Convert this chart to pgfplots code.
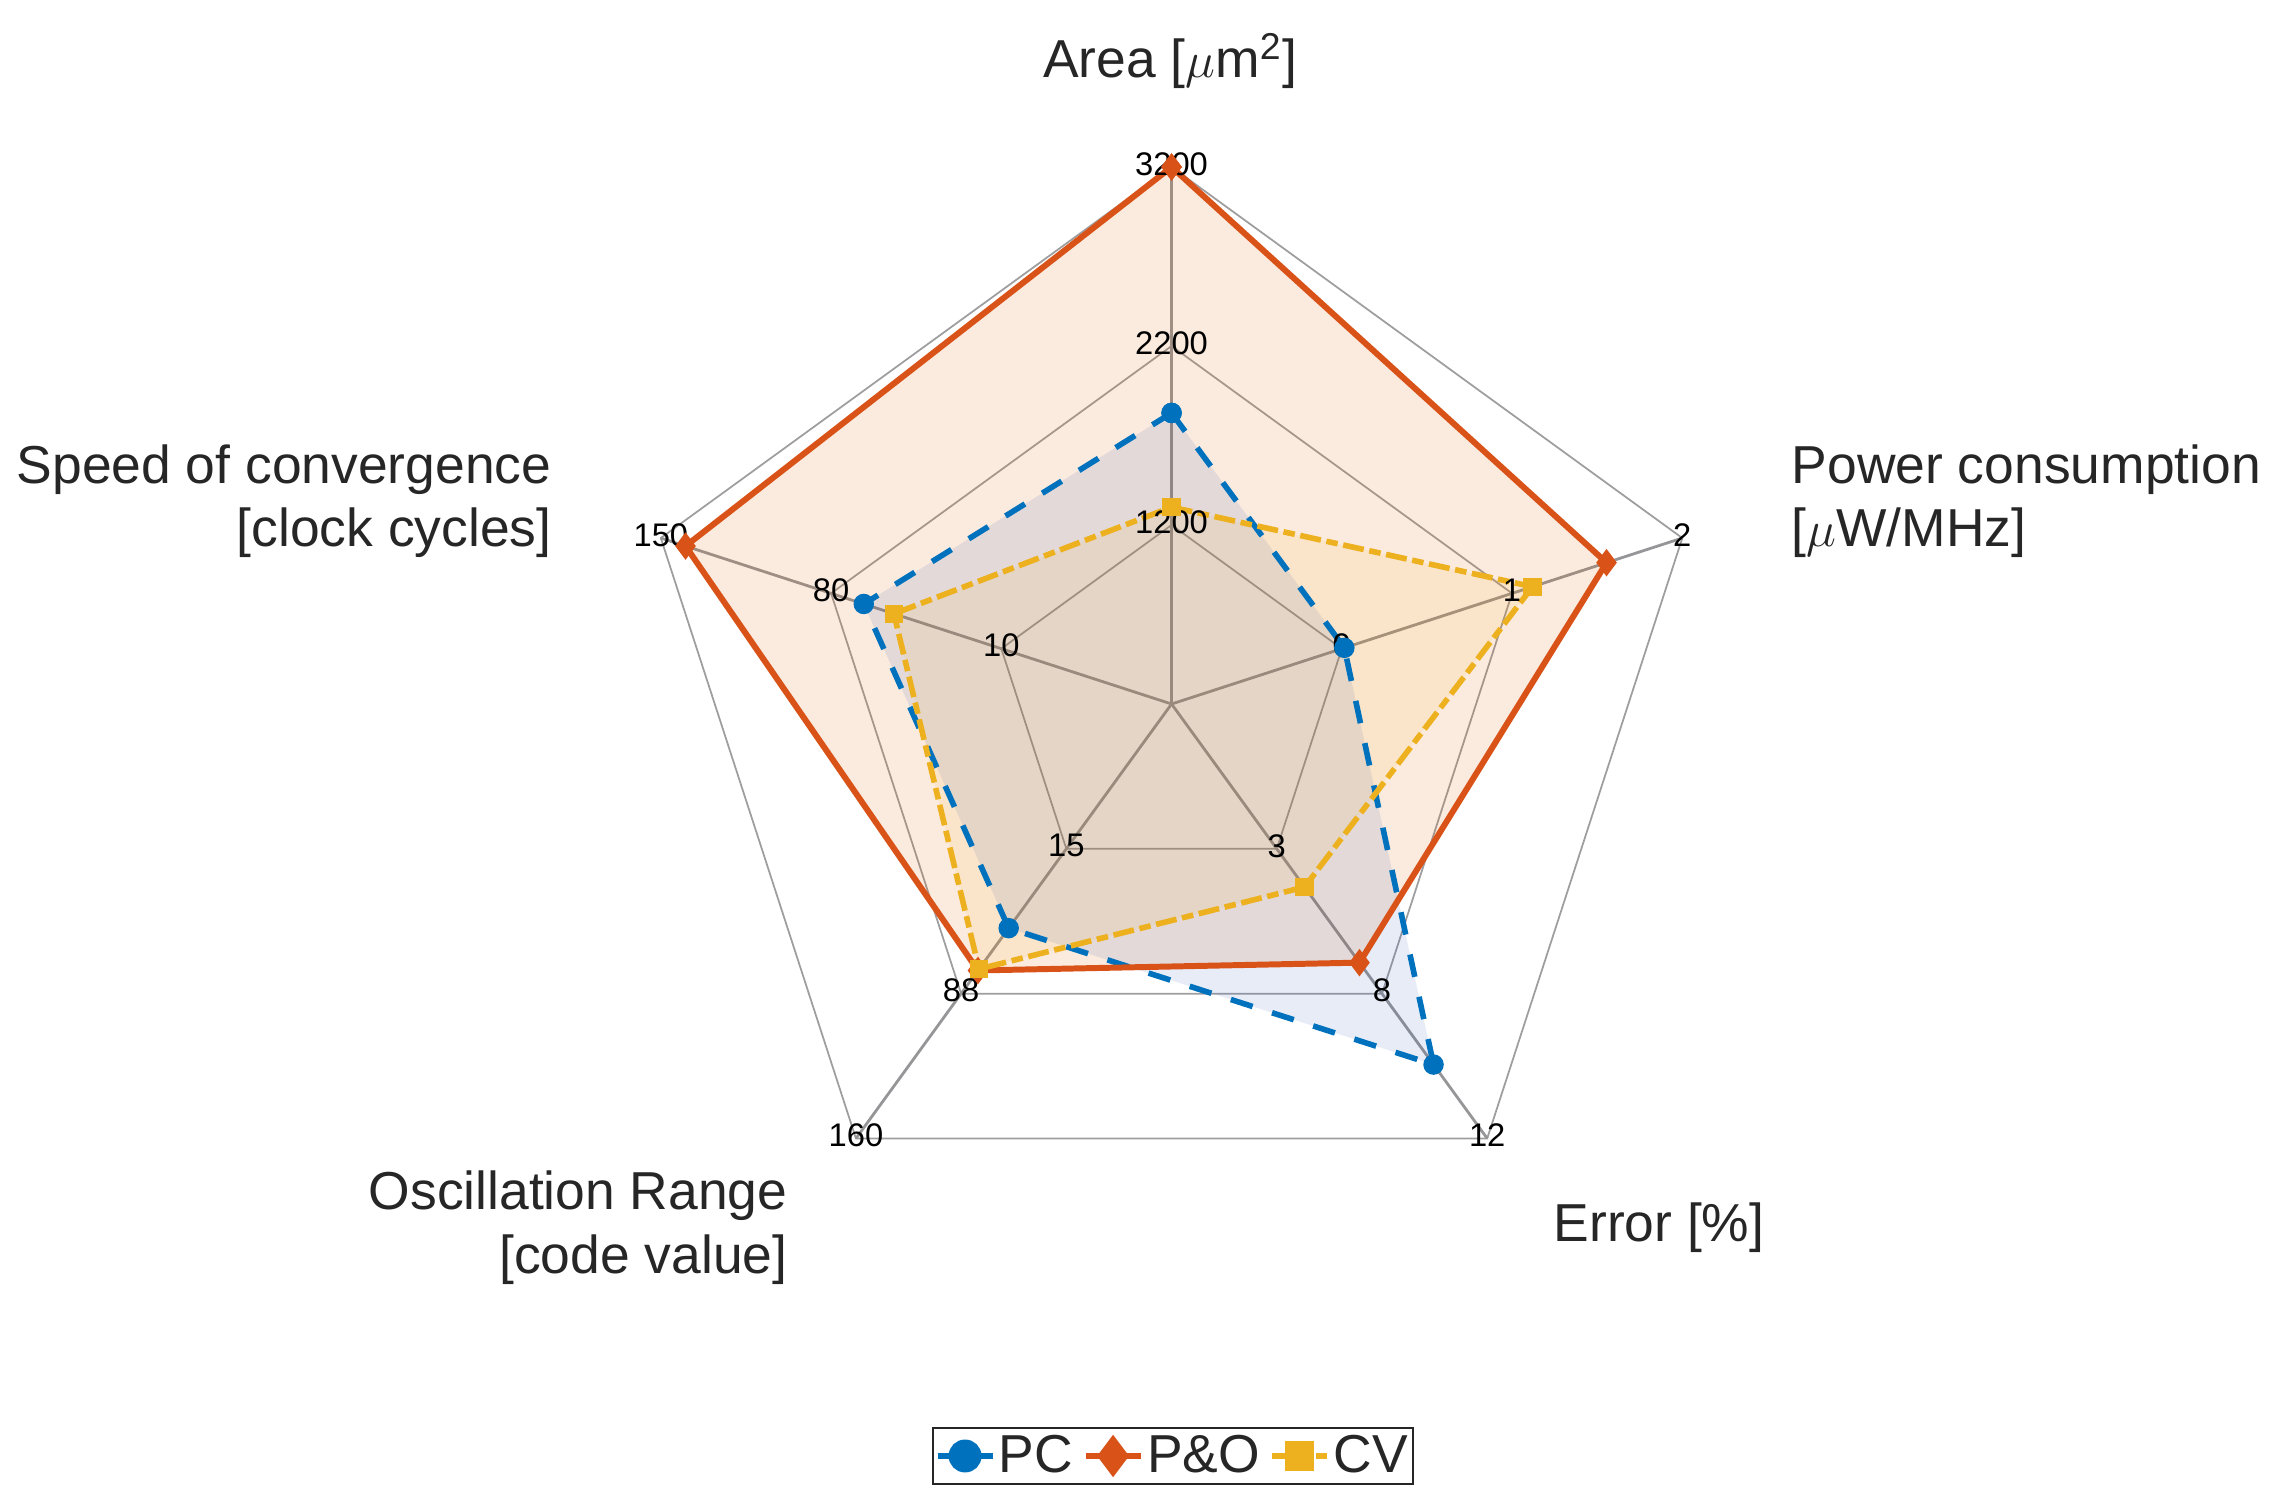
\documentclass[border=0pt]{standalone}
\usepackage{fontspec}
\setmainfont{Liberation Sans}
\usepackage{pgfplots}
\pgfplotsset{compat=1.18}
\usepackage{pgfplotstable}

\definecolor{pcblue}{RGB}{0,114,189}
\definecolor{pored}{RGB}{217,83,25}
\definecolor{cvyel}{RGB}{237,177,32}
\definecolor{pcfill}{RGB}{20,70,180}
\definecolor{pofill}{RGB}{225,95,0}
\definecolor{ringgray}{RGB}{158,158,160}
\definecolor{spokegray}{RGB}{150,150,152}
\definecolor{txt}{RGB}{38,38,38}

\newcommand\labsz{\fontsize{15.2}{18}\selectfont}
\newcommand\ticksz{\fontsize{9.3}{11}\selectfont}
% tick label on a spoke: angle, ring, text
\newcommand\tl[3]{\node[font=\ticksz,inner sep=0pt,yshift=0.3mm] at ([shift={(#1:#2*17.9mm)}]axis cs:0,0) {#3};}

% spokes: Area 90, Power 18, Error -54, Oscillation -126, Speed 162
% r = position in ring units (rings 1,2,3 carry the labelled values)
\pgfplotstableread{
ang r
90 1.626
18 1.015
-54 2.490
-126 1.548
162 1.808
90 1.626
}\pc
\pgfplotstableread{
ang r
90 3.0
18 2.555
-54 1.786
-126 1.84
162 2.855
90 3.0
}\po
\pgfplotstableread{
ang r
90 1.10
18 2.12
-54 1.264
-126 1.83
162 1.631
90 1.10
}\cv

\begin{document}
\begin{tikzpicture}
\begin{axis}[
    x=17.9mm, y=17.9mm,
    xmin=-6.545, xmax=6.170, ymin=-4.425, ymax=3.933,
    scale only axis, hide axis, clip=false,
    legend columns=3,
    legend style={at={(axis cs:0.008,-4.201)}, anchor=center,
        draw=txt, line width=0.5pt, fill=white,
        font=\labsz\color{txt},
        inner xsep=0.2mm, inner ysep=0.2mm,
        nodes={inner xsep=0.35mm, inner ysep=0.5mm},
        /tikz/every even column/.append style={column sep=0.6mm}},
    legend image code/.code={
        \draw[mark repeat=2,mark phase=2] plot coordinates {(0mm,0mm) (2.75mm,0mm) (5.5mm,0mm)};},
    legend image post style={every mark/.append style={scale=1.85}},
]
% rings
\addplot[ringgray, line width=0.5pt, data cs=polar, forget plot] coordinates {(90,1) (18,1) (-54,1) (-126,1) (162,1) (90,1)};
\addplot[ringgray, line width=0.5pt, data cs=polar, forget plot] coordinates {(90,2) (18,2) (-54,2) (-126,2) (162,2) (90,2)};
\addplot[ringgray, line width=0.5pt, data cs=polar, forget plot] coordinates {(90,3) (18,3) (-54,3) (-126,3) (162,3) (90,3)};
% spokes
\addplot[spokegray, line width=0.8pt, data cs=polar, forget plot] coordinates {(90,0) (90,3)};
\addplot[spokegray, line width=0.8pt, data cs=polar, forget plot] coordinates {(18,0) (18,3)};
\addplot[spokegray, line width=0.8pt, data cs=polar, forget plot] coordinates {(-54,0) (-54,3)};
\addplot[spokegray, line width=0.8pt, data cs=polar, forget plot] coordinates {(-126,0) (-126,3)};
\addplot[spokegray, line width=0.8pt, data cs=polar, forget plot] coordinates {(162,0) (162,3)};

% fills
\addplot[draw=none, fill=pofill, fill opacity=0.13, data cs=polar, forget plot] table[x=ang,y=r] {\po};
\addplot[draw=none, fill=pcfill, fill opacity=0.10, data cs=polar, forget plot] table[x=ang,y=r] {\pc};
\addplot[draw=none, fill=cvyel, fill opacity=0.10, data cs=polar, forget plot] table[x=ang,y=r] {\cv};

% series
\addplot[pcblue, line width=1.6pt, dash pattern=on 6.5pt off 5.8pt, data cs=polar,
    mark=*, mark size=2.1pt, mark options={solid, fill=pcblue}] table[x=ang,y=r] {\pc};
\addlegendentry{PC}
\addplot[pored, line width=1.7pt, data cs=polar,
    mark=diamond*, mark size=2.5pt, mark options={solid, fill=pored}] table[x=ang,y=r] {\po};
\addlegendentry{P\&O}
\addplot[cvyel, line width=1.6pt, dash pattern=on 6pt off 1.6pt on 3.3pt off 1.6pt, data cs=polar,
    mark=square*, mark size=1.8pt, mark options={solid, fill=cvyel}] table[x=ang,y=r] {\cv};
\addlegendentry{CV}

% spoke values
\tl{90}{1}{1200} \tl{90}{2}{2200} \tl{90}{3}{3200}
\tl{18}{1}{0} \tl{18}{2}{1} \tl{18}{3}{2}
\tl{-54}{1}{3} \tl{-54}{2}{8} \tl{-54}{3}{12}
\tl{-126}{1}{15} \tl{-126}{2}{88} \tl{-126}{3}{160}
\tl{162}{1}{10} \tl{162}{2}{80} \tl{162}{3}{150}

% spoke names
\node[font=\labsz, text=txt, inner sep=0pt] at (axis cs:-0.008,3.592) {Area [$\mu$m\textsuperscript{2}]};
\node[font=\labsz, text=txt, inner sep=0pt, anchor=west, align=left] at (axis cs:3.461,1.131) {Power consumption\\{}[$\mu$W/MHz]};
\node[font=\labsz, text=txt, inner sep=0pt, anchor=east, align=right] at (axis cs:-3.461,1.131) {Speed of convergence\\{}[clock cycles]};
\node[font=\labsz, text=txt, inner sep=0pt, anchor=east, align=right] at (axis cs:-2.142,-2.925) {Oscillation Range\\{}[code value]};
\node[font=\labsz, text=txt, inner sep=0pt] at (axis cs:2.723,-2.927) {Error [\%]};

\path (axis cs:-6.545,-4.425) rectangle (axis cs:6.170,3.933);
\end{axis}
\end{tikzpicture}
\end{document}
